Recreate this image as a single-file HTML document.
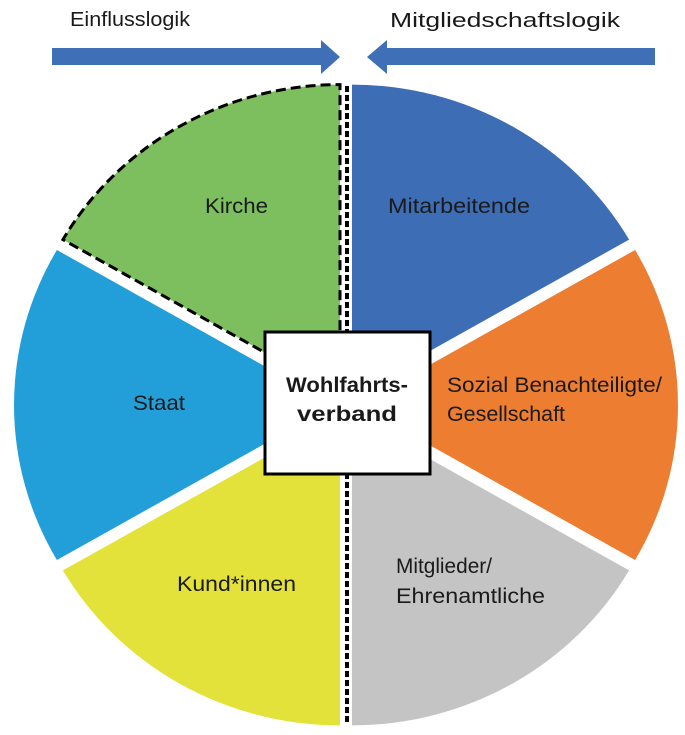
<!DOCTYPE html>
<html><head><meta charset="utf-8"><style>
html,body{margin:0;padding:0;background:#fff;}
svg{display:block;}
text{font-family:"Liberation Sans",sans-serif;fill:#1a1a1a;}
</style></head><body>
<svg width="685" height="735" viewBox="0 0 685 735" xmlns="http://www.w3.org/2000/svg">
<polygon points="52,48 321,48 321,40 340,57 321,74 321,65 52,65" fill="#3f6fb6"/>
<polygon points="655,48 387,48 387,40 367,57 387,74 387,65 655,65" fill="#3f6fb6"/>
<text x="70" y="26" font-size="20" textLength="120" lengthAdjust="spacingAndGlyphs">Einflusslogik</text>
<text x="390" y="27" font-size="20" textLength="230" lengthAdjust="spacingAndGlyphs">Mitgliedschaftslogik</text>

<path d="M352,394.6 L352,84.6 A320,310 0 0 1 629.1,239.6 Z" fill="#3d6db5"/>
<path d="M358,405 L635.1,250 A320,310 0 0 1 635.1,560 Z" fill="#ed7d31"/>
<path d="M352,415.4 L629.1,570.4 A320,310 0 0 1 352,725.4 Z" fill="#c4c4c4"/>
<path d="M340,415.4 L340,725.4 A320,310 0 0 1 62.9,570.4 Z" fill="#e2e23a"/>
<path d="M334,405 L56.9,560 A320,310 0 0 1 56.9,250 Z" fill="#229fd9"/>
<path d="M340,394.6 L62.9,239.6 A320,310 0 0 1 340,84.6 Z" fill="#7dbf5e" stroke="#000" stroke-width="3" stroke-dasharray="10 5"/>

<line x1="347" y1="86" x2="347" y2="725" stroke="#000" stroke-width="4" stroke-dasharray="6 3"/>

<rect x="265" y="332" width="165" height="142" fill="#fff" stroke="#000" stroke-width="3"/>
<text x="347" y="392" font-size="21" font-weight="bold" text-anchor="middle" textLength="122" lengthAdjust="spacingAndGlyphs">Wohlfahrts-</text>
<text x="347" y="421" font-size="21" font-weight="bold" text-anchor="middle" textLength="100" lengthAdjust="spacingAndGlyphs">verband</text>

<text x="205" y="213" font-size="21" textLength="63" lengthAdjust="spacingAndGlyphs">Kirche</text>
<text x="388" y="213" font-size="21" textLength="142" lengthAdjust="spacingAndGlyphs">Mitarbeitende</text>
<text x="133" y="410" font-size="21" textLength="52" lengthAdjust="spacingAndGlyphs">Staat</text>
<text x="447" y="392" font-size="21" textLength="215" lengthAdjust="spacingAndGlyphs">Sozial Benachteiligte/</text>
<text x="447" y="421" font-size="21" textLength="118" lengthAdjust="spacingAndGlyphs">Gesellschaft</text>
<text x="177" y="591" font-size="21" textLength="119" lengthAdjust="spacingAndGlyphs">Kund*innen</text>
<text x="396" y="573" font-size="21" textLength="96" lengthAdjust="spacingAndGlyphs">Mitglieder/</text>
<text x="396" y="603" font-size="21" textLength="149" lengthAdjust="spacingAndGlyphs">Ehrenamtliche</text>
</svg>
</body></html>
